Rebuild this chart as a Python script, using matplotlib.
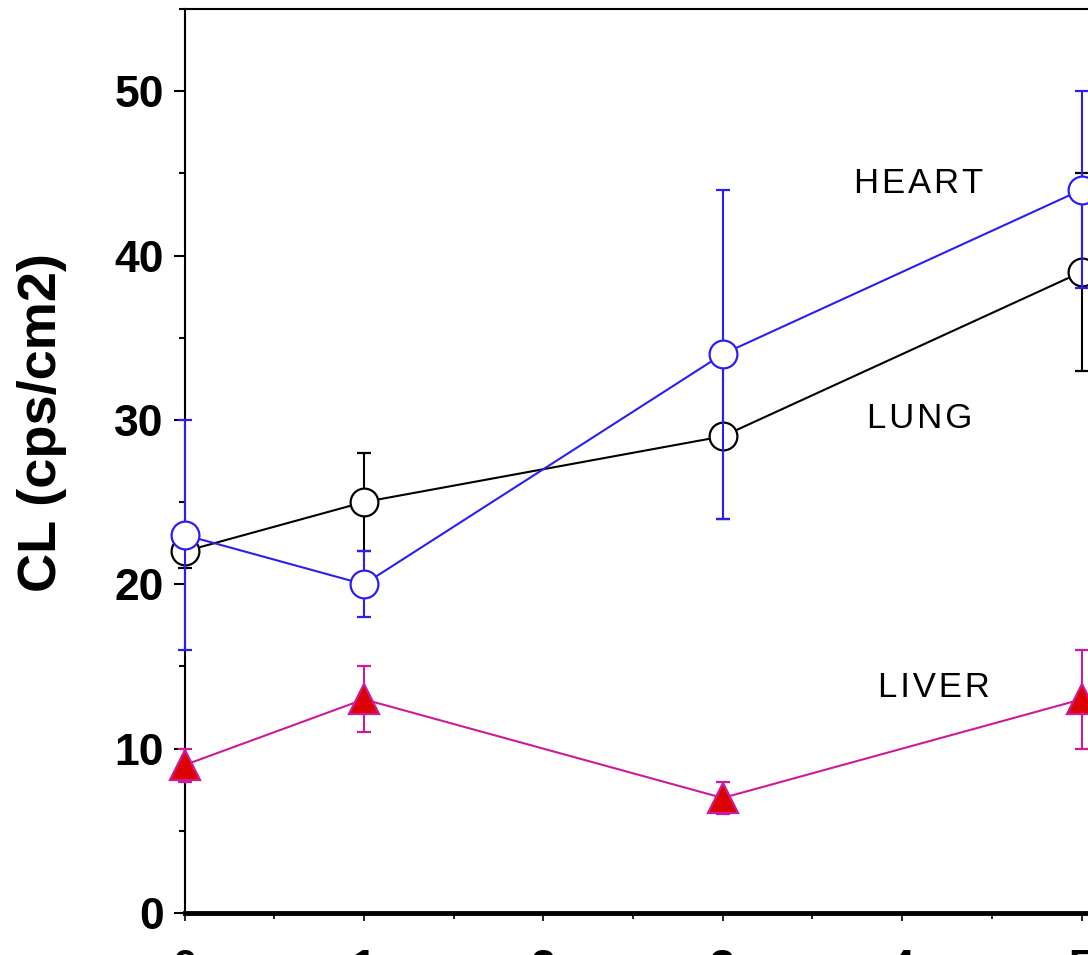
import numpy as np
import matplotlib
matplotlib.use("Agg")
from matplotlib import pyplot as plt
from matplotlib.ticker import MultipleLocator

plt.rcParams['font.family'] = ['Liberation Sans', 'DejaVu Sans']

days = [0, 1, 3, 5]
lung = [22, 25, 29, 39]
lung_err = [1, 3, 5, 6]
heart = [23, 20, 34, 44]
heart_err = [7, 2, 10, 6]
liver = [9, 13, 7, 13]
liver_err = [1, 2, 1, 3]
labels = ['HEART', 'LUNG', 'LIVER']

blue = '#2a1ff0'
magenta = '#cc1a99'

fig = plt.figure(figsize=(10.88, 9.55), dpi=100)
# axes runs past the right edge of the picture (cropped original)
ax = fig.add_axes([184.5 / 1088, 42 / 955, 5.2 * 179.4 / 1088, 904 / 955])

ax.errorbar(days, lung, yerr=lung_err, color='black', lw=1.5, elinewidth=1.5,
            capsize=5, capthick=1.5, marker='o', ms=20, mfc='white',
            mec='black', mew=1.6, clip_on=False, zorder=3)
ax.errorbar(days, heart, yerr=heart_err, color=blue, lw=1.5, elinewidth=1.5,
            capsize=5, capthick=1.5, marker='o', ms=20, mfc='white',
            mec=blue, mew=1.6, clip_on=False, zorder=4)
ax.errorbar(days, liver, yerr=liver_err, color=magenta, lw=1.5, elinewidth=1.5,
            capsize=5, capthick=1.5, marker='^', ms=21, mfc='#dd0000',
            mec=magenta, mew=1.6, clip_on=False, zorder=5)

# spaced-out letters like the original
def spaced(s):
    return '\u200a'.join(s)

ax.text(4.09, 44.4, spaced(labels[0]), fontsize=25, ha='center', va='center')
ax.text(4.10, 30.1, spaced(labels[1]), fontsize=25, ha='center', va='center')
ax.text(4.18, 13.75, spaced(labels[2]), fontsize=25, ha='center', va='center')

ax.set_xlim(0, 5.2)
ax.set_ylim(0, 55)
ax.xaxis.set_major_locator(MultipleLocator(1))
ax.xaxis.set_minor_locator(MultipleLocator(0.5))
ax.yaxis.set_major_locator(MultipleLocator(10))
ax.yaxis.set_minor_locator(MultipleLocator(5))

for side in ['left', 'top']:
    ax.spines[side].set_linewidth(1.5)
ax.spines['bottom'].set_linewidth(3.5)
ax.spines['right'].set_visible(False)

ax.tick_params(axis='y', which='major', direction='out', length=8, width=1.5,
               pad=7, labelsize=32)
ax.tick_params(axis='y', which='minor', direction='out', length=4, width=1.5)
ax.tick_params(axis='x', which='major', direction='out', length=6, width=1.2,
               pad=20, labelsize=32)
ax.tick_params(axis='x', which='minor', direction='out', length=4, width=1.2)
for lab in ax.get_xticklabels() + ax.get_yticklabels():
    lab.set_fontweight('bold')

fig.text(42 / 1088, 1 - 422 / 955, 'CL (cps/cm2)', rotation=90, fontsize=39,
         fontweight='bold', ha='center', va='center')

fig.savefig('out.png', dpi=100)
